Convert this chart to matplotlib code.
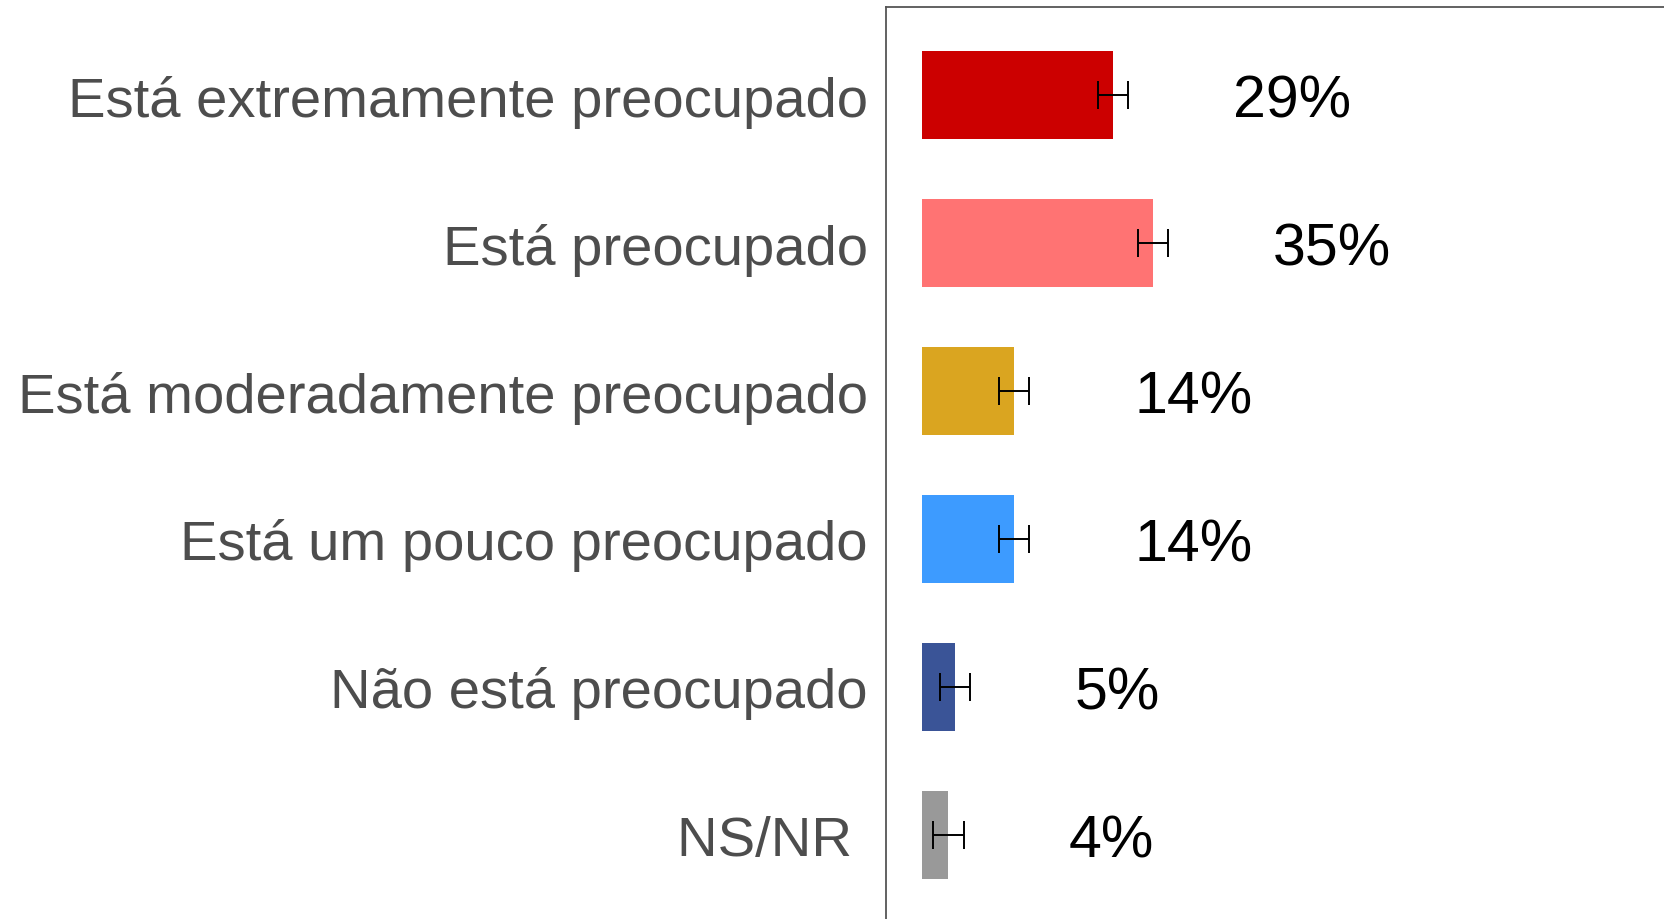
import matplotlib
matplotlib.use("Agg")
import matplotlib.pyplot as plt

categories = [
    "Está extremamente preocupado",
    "Está preocupado",
    "Está moderadamente preocupado",
    "Está um pouco preocupado",
    "Não está preocupado",
    "NS/NR ",
]
values = [29, 35, 14, 14, 5, 4]
errors = [2.3, 2.3, 2.3, 2.3, 2.3, 2.3]
colors = ["#CC0000", "#FF7373", "#DAA520", "#3D9BFF", "#3A5497", "#999999"]

plt.rcParams["font.family"] = ["Liberation Sans", "DejaVu Sans"]

fig = plt.figure(figsize=(16.65, 9.2), dpi=100)
ax = fig.add_axes([886 / 1665, 0.0, 1 - 886 / 1665, 1 - 8 / 920])

pos = list(range(len(categories)))
ax.barh(pos, values, height=0.6, color=colors)
ax.errorbar(values, pos, xerr=errors, fmt="none", ecolor="black",
            elinewidth=1.4, capsize=10.4, capthick=1.4)

# percentage labels to the right of each bar
for p, v in zip(pos, values):
    ax.text(v + 18.2, p, f"{v}%", va="center_baseline", ha="left",
            fontsize=42.5, color="black")

ax.set_xlim(-5.46, 112.7)
ax.set_ylim(5.568, -0.595)
ax.set_yticks(pos)
ax.set_yticklabels(categories, fontsize=40.5, color="#4D4D4D")
ax.tick_params(axis="y", length=0, pad=13)
ax.set_xticks([])

for side in ["right", "bottom"]:
    ax.spines[side].set_visible(False)
for side in ["left", "top"]:
    ax.spines[side].set_color("#555555")
    ax.spines[side].set_linewidth(1.3)

fig.savefig("out.png", dpi=100)
